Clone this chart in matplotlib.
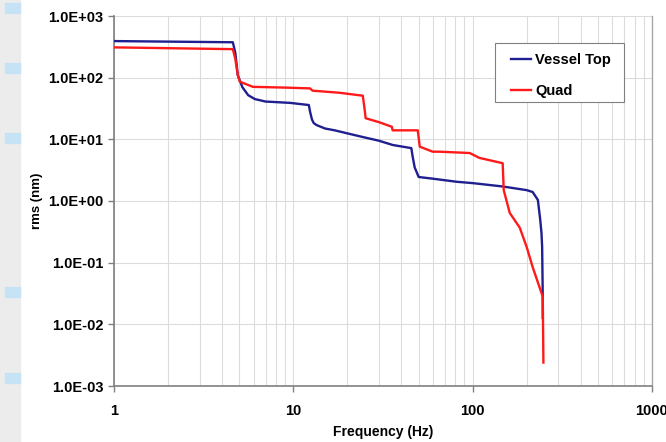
import matplotlib
matplotlib.use("Agg")
import matplotlib.pyplot as plt
import matplotlib.patches as mpatches
from matplotlib.ticker import FuncFormatter, LogLocator, NullFormatter, NullLocator
import numpy as np

plt.rcParams['font.family'] = ['Liberation Sans', 'DejaVu Sans']

# --- dados ---
vessel_f = [1, 4.6, 4.75, 4.9, 5.2, 5.6, 6.1, 7, 9.6, 12.2, 12.4, 12.7, 13.0, 13.5,
            15, 17, 20, 24.4, 30, 35.8, 45.5, 46.3, 47.5, 50, 60, 81.5, 100, 147,
            200, 216, 231, 238, 242, 244, 245.6, 246]
vessel_rms = [392, 375, 250, 110, 70, 52, 45, 41, 39, 36, 28, 21, 18.3, 17,
              15, 14, 12.5, 10.9, 9.5, 8.1, 7.2, 5.2, 3.5, 2.45, 2.3, 2.05, 1.95, 1.72,
              1.5, 1.4, 1.04, 0.5, 0.30, 0.18, 0.04, 0.0127]

quad_f = [1, 4.6, 4.75, 4.9, 5.03, 5.95, 9, 12.4, 12.8, 18, 24.4, 25.0, 25.3, 30,
          35.4, 35.8, 49.4, 50.7, 59.9, 65.5, 96.2, 109, 147, 149, 161, 183, 200,
          216, 246, 248]
quad_rms = [310, 290, 200, 110, 86, 71, 69, 67, 61.5, 57, 51, 30, 22, 19,
            16, 14, 14, 7.6, 6.3, 6.3, 6.0, 5.0, 4.1, 1.5, 0.64, 0.37, 0.18,
            0.085, 0.028, 0.0024]

fig = plt.figure(figsize=(6.66, 4.42), dpi=100)
ax = fig.add_axes([114/666, 1 - 386/442, (652 - 114)/666, (386 - 16)/442])

# faixa cinza do slide à esquerda
fig.patches.append(mpatches.Rectangle((0, 0), 20/666, 1, transform=fig.transFigure,
                                      color="#ececec", zorder=0))
for y0 in [3, 63, 133, 287, 373]:
    fig.patches.append(mpatches.Rectangle((5/666, 1 - (y0 + 10)/442), 15/666, 10/442,
                                          transform=fig.transFigure,
                                          color="#c5e3f5", zorder=1))

ax.plot(vessel_f, vessel_rms, color="#1f1f8f", lw=1.7, label="Vessel Top", zorder=3)
ax.plot(quad_f, quad_rms, color="#ff1a1a", lw=1.7, label="Quad", zorder=3)

ax.set_xscale("log")
ax.set_yscale("log")
ax.set_xlim(1, 1000)
ax.set_ylim(1e-3, 1e3)

ax.xaxis.set_major_locator(LogLocator(base=10))
ax.xaxis.set_minor_locator(LogLocator(base=10, subs=np.arange(2, 10)))
ax.xaxis.set_minor_formatter(NullFormatter())
ax.xaxis.set_major_formatter(FuncFormatter(lambda v, p: f"{v:g}"))
ax.yaxis.set_major_locator(LogLocator(base=10))
ax.yaxis.set_minor_locator(NullLocator())
ax.yaxis.set_major_formatter(FuncFormatter(lambda v, p: f"{v:.1E}"))

ax.grid(True, which="major", color="#dcdcdc", lw=0.8)
ax.grid(True, which="minor", axis="x", color="#dcdcdc", lw=0.8)

ax.spines["top"].set_visible(False)
ax.spines["right"].set_color("#a8a8a8")
ax.spines["right"].set_linewidth(1.0)
for s in ["left", "bottom"]:
    ax.spines[s].set_color("#808080")
    ax.spines[s].set_linewidth(1.2)

ax.tick_params(axis="both", which="major", labelsize=10.5, color="#808080",
               length=4, width=1)
ax.tick_params(axis="x", which="minor", length=0)
ax.tick_params(axis="x", pad=9)
for lab in ax.get_xticklabels() + ax.get_yticklabels():
    lab.set_fontweight("bold")

ax.set_xlabel("Frequency (Hz)", fontsize=10, fontweight="bold", labelpad=5)
ax.set_ylabel("rms (nm)", fontsize=9.5, fontweight="bold", labelpad=4)

# legenda: moldura desenhada à parte para ter a folga horizontal do original
frame = mpatches.Rectangle((495/666, 1 - 102/442), 129/666, 59/442,
                           transform=fig.transFigure, facecolor="white",
                           edgecolor="#808080", lw=0.8, zorder=4, clip_on=False)
ax.add_patch(frame)
leg = ax.legend(loc="upper left", bbox_to_anchor=(511/666, 1 - 53/442),
                bbox_transform=fig.transFigure, frameon=False,
                prop={"weight": "bold", "size": 10.5},
                handlelength=1.4, handletextpad=0.25, borderpad=0,
                borderaxespad=0, labelspacing=1.15)
leg.set_zorder(5)

fig.savefig("out.png", dpi=100)
